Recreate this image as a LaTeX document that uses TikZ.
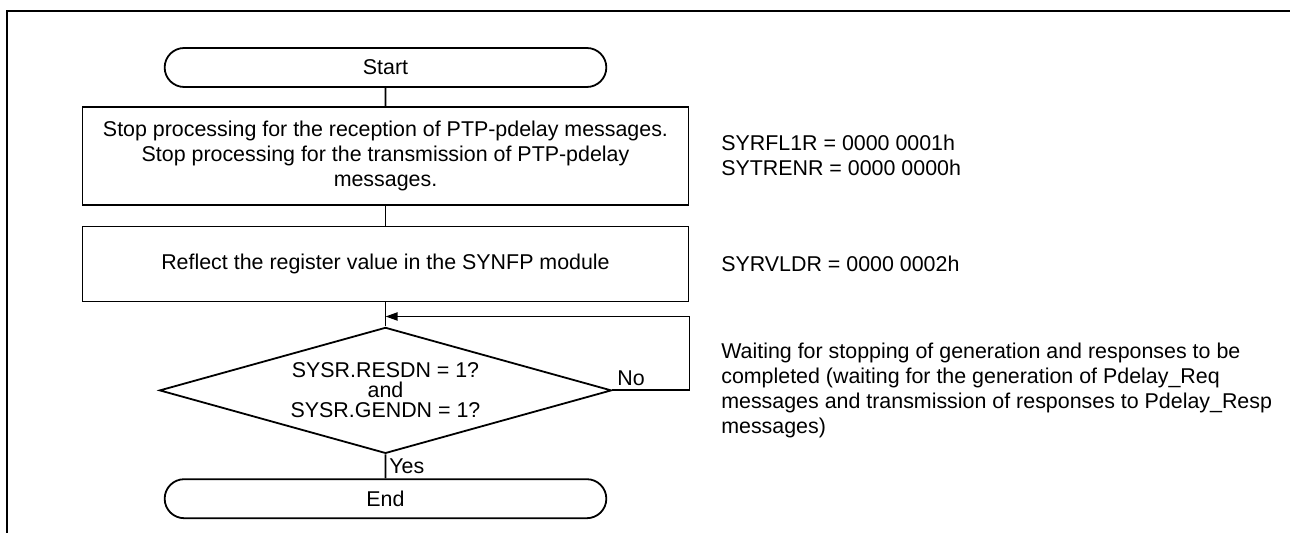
\documentclass[tikz,border=0pt]{standalone}
\usepackage{fontspec}
\setmainfont{Liberation Sans}
\usetikzlibrary{positioning, arrows.meta, shapes.misc, shapes.geometric}

\begin{document}
\begin{tikzpicture}[x=0.5pt, y=-0.5pt, line width=0.9pt,
      txt/.style={font=\fontsize{10.7pt}{12.5pt}\selectfont},
      term/.style={draw, rounded rectangle, txt,
                   minimum width=227.5pt, minimum height=19.5pt},
      box/.style={draw, rectangle, txt, align=center,
                  minimum width=303pt, inner sep=0pt},
      cond/.style={draw, diamond, aspect=3.6, inner sep=0pt, align=center,
                   font=\fontsize{10.7pt}{10pt}\selectfont,
                   minimum width=226pt, minimum height=63pt},
      note/.style={txt, align=left, inner sep=0pt},
      arr/.style={-{Triangle[length=6pt, width=4pt]}}]
    \useasboundingbox (0,0) rectangle (1290,533);
    \draw[line width=1.3pt] (7,533) -- (7,11) -- (1290,11);

    \node[term]                                   (start) at (385.5,67.5) {Start};
    \node[box, minimum height=49pt, below=9pt of start]  (box1)
      {Stop processing for the reception of PTP-pdelay messages.\\
       Stop processing for the transmission of PTP-pdelay\\
       messages.};
    \node[box, minimum height=37.5pt, below=10pt of box1] (box2)
      {Reflect the register value in the SYNFP module};
    \node[cond, below=12pt of box2]               (dec)
      {SYSR.RESDN = 1?\\and\\SYSR.GENDN = 1?};
    \node[term, below=12pt of dec]                (end)   {End};
    \coordinate[below=7pt of box2]                (entry);

    \node[note, right=15.5pt of box1]             (regs1)
      {SYRFL1R = 0000 0001h\\SYTRENR = 0000 0000h};
    \node[note, right=15.5pt of box2]             (regs2) {SYRVLDR = 0000 0002h};
    \node[note, anchor=west] at (regs2.west |- dec) (wait)
      {Waiting for stopping of generation and responses to be\\
       completed (waiting for the generation of Pdelay\_Req\\
       messages and transmission of responses to Pdelay\_Resp\\
       messages)};

    \draw (start) -- (box1);
    \draw (box1)  -- (box2);
    \draw (box2)  -- (dec);
    \draw (dec)   -- node[right, txt, inner sep=1.5pt]{Yes} (end);
    \draw[arr] (dec.east) -- node[pos=0, anchor=south west, txt, inner sep=2pt]{No}
               (dec.east -| box2.east) |- (entry);
  \end{tikzpicture}
\end{document}
